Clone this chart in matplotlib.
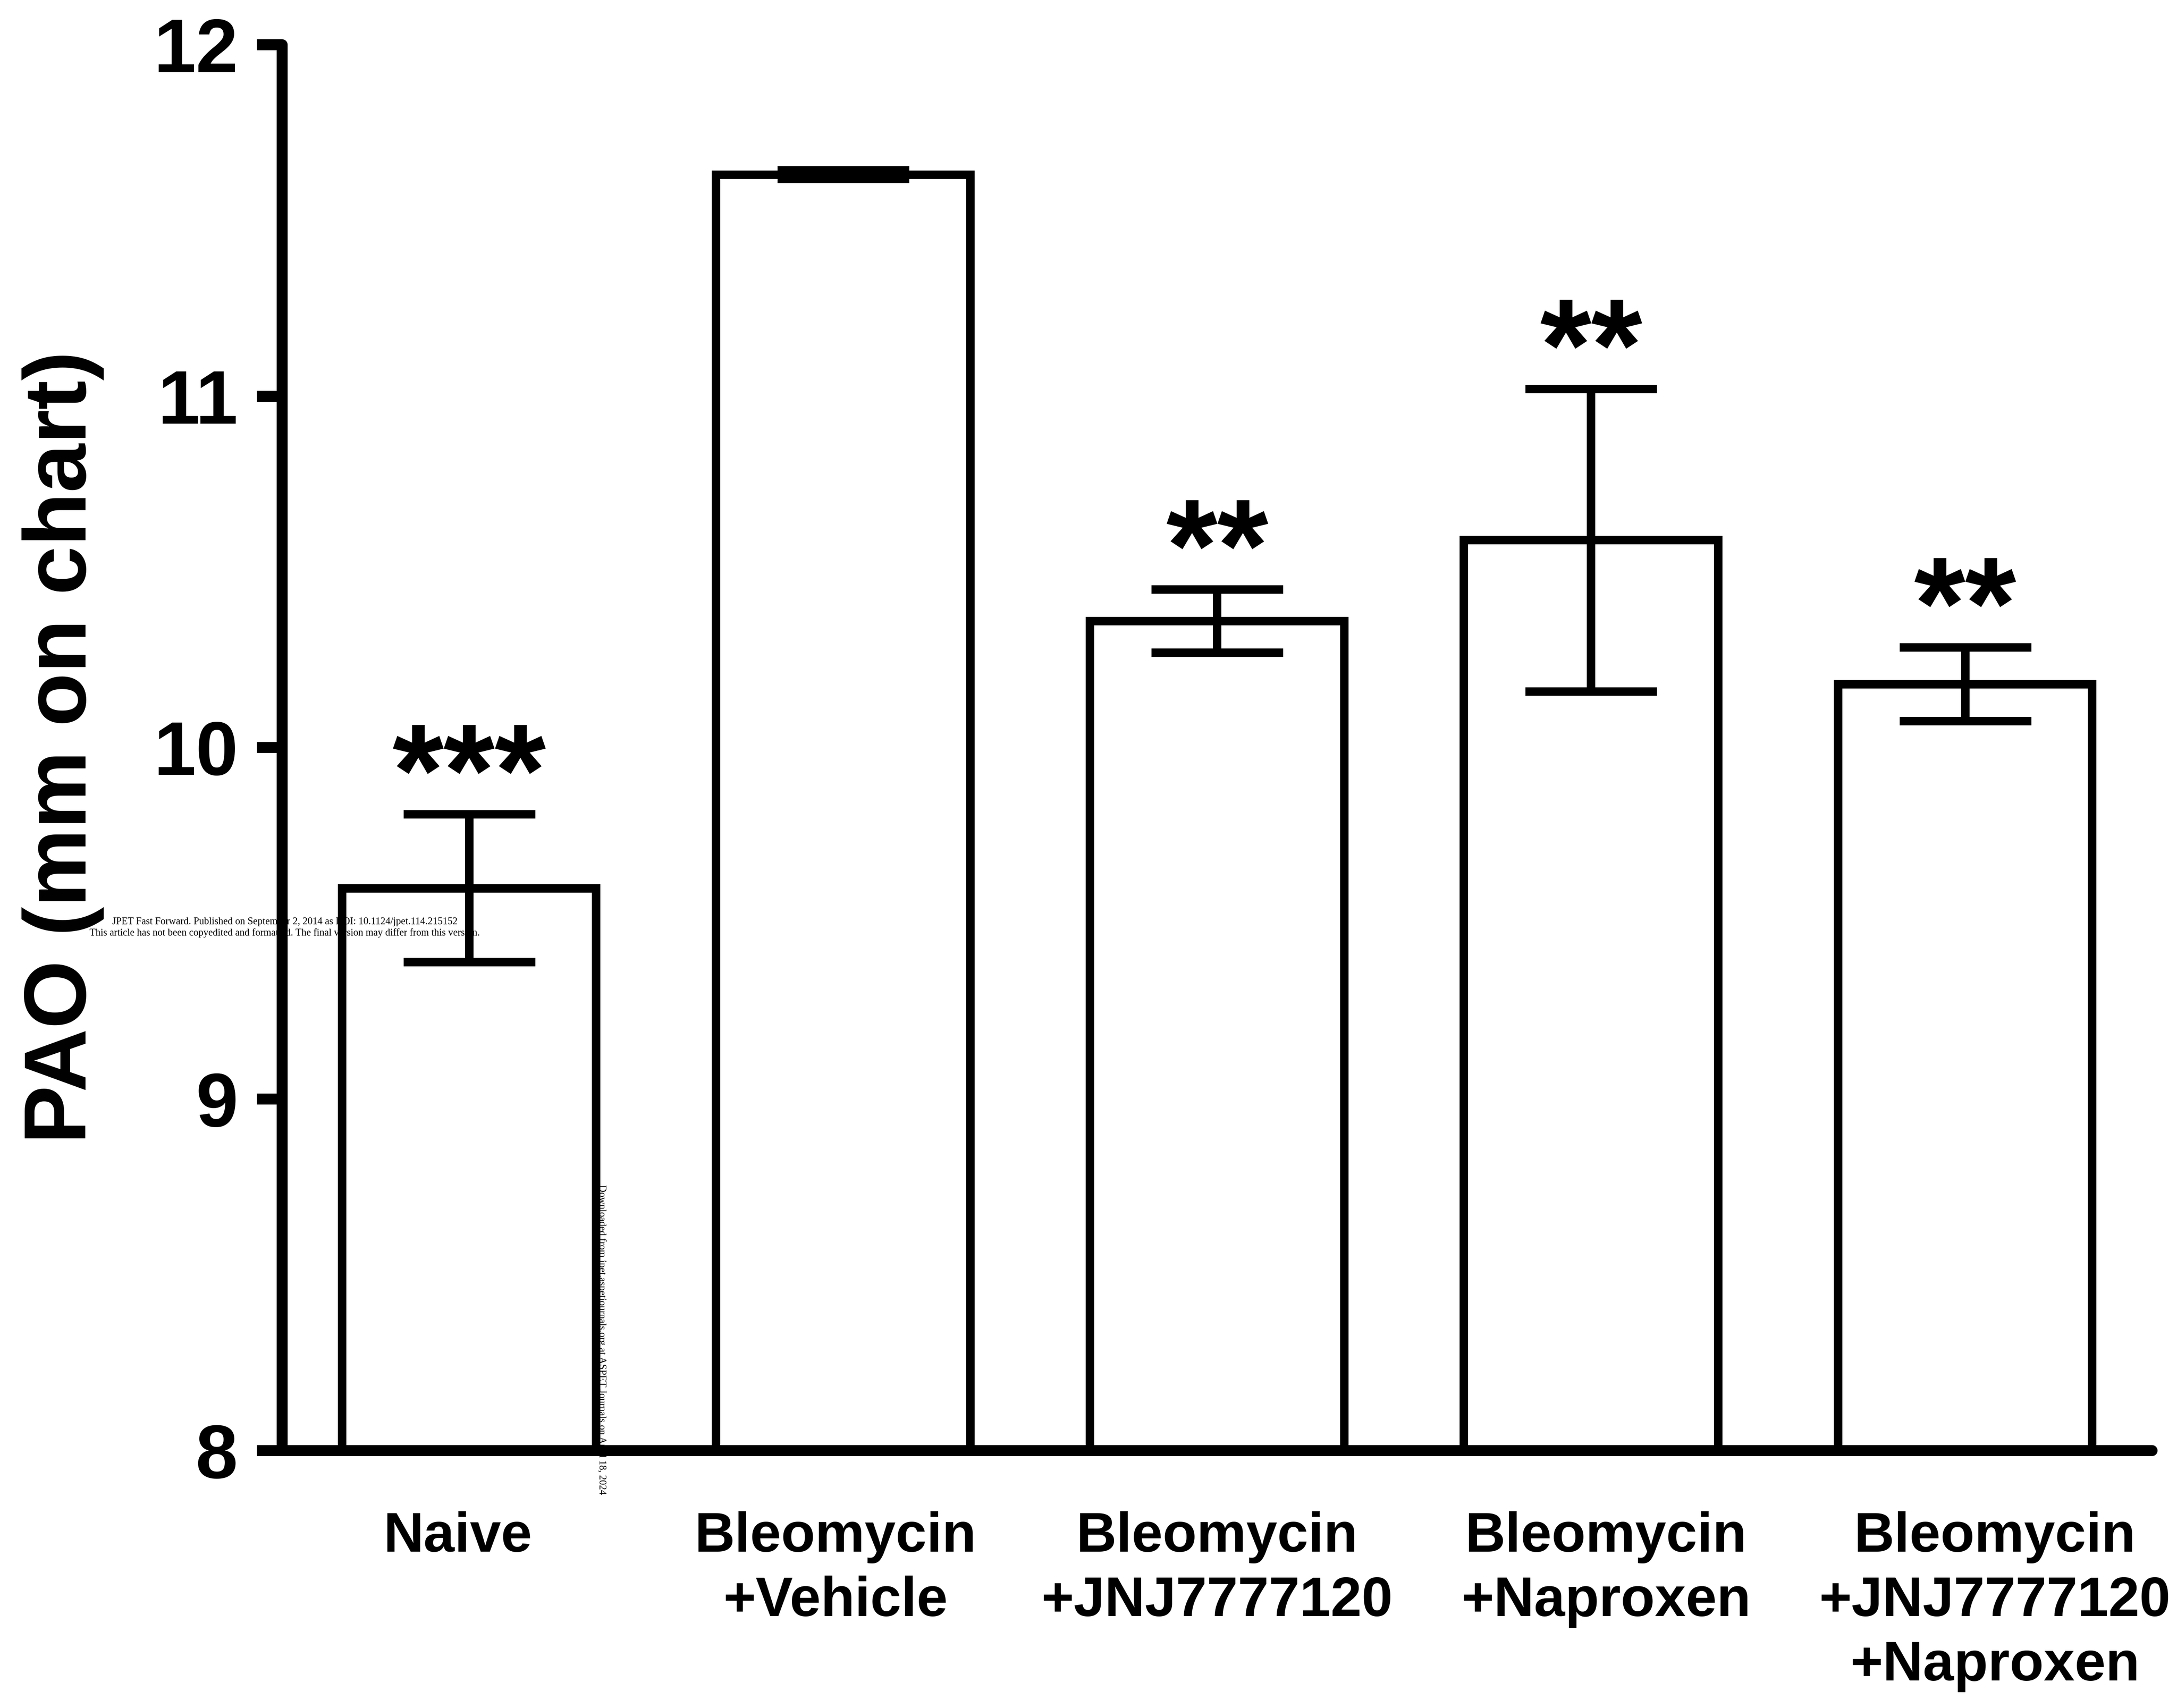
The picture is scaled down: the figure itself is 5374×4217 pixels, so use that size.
import matplotlib.pyplot as plt
import matplotlib.transforms as mtransforms
import numpy as np

# groups and values
groups = ["Naive", "Bleomycin\n+Vehicle", "Bleomycin\n+JNJ7777120",
          "Bleomycin\n+Naproxen", "Bleomycin\n+JNJ7777120\n+Naproxen"]
means  = [9.60, 11.63, 10.36, 10.59, 10.18]
sems   = [0.21, 0.012, 0.09, 0.43, 0.105]
stars  = ["***", "", "**", "**", "**"]

yticks = [8, 9, 10, 11, 12]

# labels in the original sit a little off the bar centres
label_shift = [-0.03, -0.02, 0.0, 0.04, 0.08]

plt.rcParams['font.family'] = ['Liberation Sans', 'DejaVu Sans']
plt.rcParams['font.weight'] = 'bold'

fig = plt.figure(figsize=(5374 / 300, 4217 / 300), dpi=300)
ax = fig.add_axes([0.1295, 0.1508, 0.859, 0.8232])

x = np.arange(len(groups))
LW = 5.0

# fill first, then the watermark, then edges on top of it
ax.bar(x, means, width=0.68, color='white', edgecolor='none', zorder=2)
ax.bar(x, means, width=0.68, fill=False, edgecolor='black', linewidth=LW, zorder=3)
ax.errorbar(x, means, yerr=sems, fmt='none', ecolor='black', elinewidth=LW,
            capsize=39, capthick=LW, zorder=4)

for xi, m, s, st in zip(x, means, sems, stars):
    if st:
        ax.annotate(st, (xi, m + s), xytext=(0, -1), textcoords='offset points',
                    ha='center', va='baseline', fontsize=78, fontweight='bold')

ax.set_xlim(-0.5, 4.5)
ax.set_ylim(8, 12)
ax.set_yticks(yticks)
ax.set_xticks(x)
ax.set_xticklabels(groups, fontsize=33, fontweight='bold', linespacing=1.3)
ax.tick_params(axis='x', length=0, pad=36)
ax.tick_params(axis='y', length=15, width=6.5, pad=11, labelsize=45)
for lab in ax.get_yticklabels():
    lab.set_fontweight('bold')
for lab, dx in zip(ax.get_xticklabels(), label_shift):
    # shift in data units along x
    off = mtransforms.ScaledTranslation(dx * ax.get_position().width * fig.get_figwidth() / 5.0, 0,
                                        fig.dpi_scale_trans)
    lab.set_transform(lab.get_transform() + off)

ax.set_ylabel("PAO (mm on chart)", fontsize=52, fontweight='bold')
ax.yaxis.set_label_coords(-0.095, 0.5)

for side in ['top', 'right']:
    ax.spines[side].set_visible(False)
for side in ['left', 'bottom']:
    ax.spines[side].set_linewidth(6.5)
    ax.spines[side].set_capstyle('round')

# journal watermark stamped over the figure
wm = dict(transform=fig.transFigure, family='Liberation Serif', fontweight='normal',
          fontsize=5.9, clip_on=False, zorder=2.5)
ax.text(0.1308, 0.4602, "JPET Fast Forward. Published on September 2, 2014 as DOI: 10.1124/jpet.114.215152",
        ha='center', va='center', **wm)
ax.text(0.1308, 0.4537, "This article has not been copyedited and formatted. The final version may differ from this version.",
        ha='center', va='center', **wm)
ax.text(0.2765, 0.3064, "Downloaded from jpet.aspetjournals.org at ASPET Journals on April 18, 2024",
        ha='center', va='top', rotation=270, **wm)

fig.savefig("out.png", dpi=300)
